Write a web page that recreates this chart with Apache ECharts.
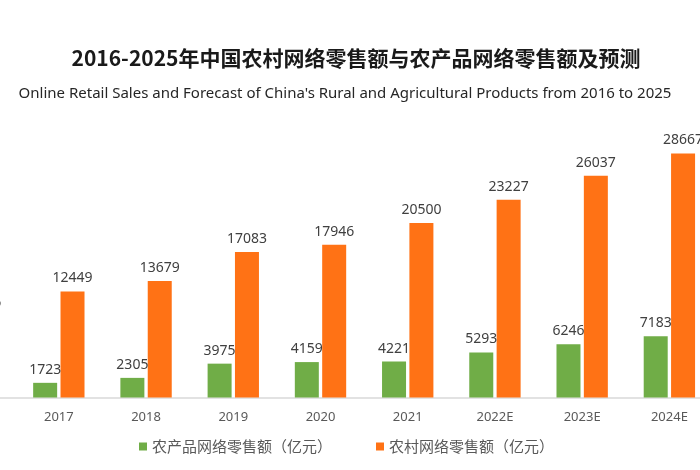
<!DOCTYPE html>
<html>
<head>
<meta charset="utf-8">
<script src="https://cdn.jsdelivr.net/npm/echarts@6/dist/echarts.min.js"></script>
<style>
    html, body { margin: 0; padding: 0; background: #ffffff; }
    #chart { width: 700px; height: 470px; }
</style>
</head>
<body>
<div id="chart"></div>
<script>
// data (2016 only partly visible, values estimated)
const years = ['2016', '2017', '2018', '2019', '2020', '2021', '2022E', '2023E', '2024E'];
const agriSales = [1589, 1723, 2305, 3975, 4159, 4221, 5293, 6246, 7183];
const ruralSales = [9556, 12449, 13679, 17083, 17946, 20500, 23227, 26037, 28667];
const seriesNames = ['农产品网络零售额（亿元）', '农村网络零售额（亿元）'];

const chart = echarts.init(document.getElementById('chart'));

const labelStyle = {
    show: true,
    position: 'top',
    distance: 6,
    color: '#404040',
    fontSize: 14,
    fontFamily: 'Noto Sans'
};

chart.setOption({
    animation: false,
    title: [
        {
            text: '2016-2025年中国农村网络零售额与农产品网络零售额及预测',
            left: 351,
            textAlign: 'center',
            top: 43,
            textStyle: {
                fontSize: 21,
                fontWeight: 'bold',
                color: '#1a1a1a',
                fontFamily: 'Noto Sans CJK SC'
            }
        },
        {
            text: "Online Retail Sales and Forecast of China's Rural and Agricultural Products from 2016 to 2025",
            left: 340,
            textAlign: 'center',
            top: 81,
            textStyle: {
                fontSize: 15,
                fontWeight: 'normal',
                color: '#262626',
                fontFamily: 'Noto Sans'
            }
        }
    ],
    legend: {
        bottom: 11,
        left: 134,
        icon: 'rect',
        itemWidth: 8,
        itemHeight: 8,
        itemGap: 44,
        textStyle: {
            fontSize: 15,
            color: '#595959',
            fontFamily: 'Noto Sans CJK SC'
        },
        data: seriesNames
    },
    // the picture is a crop: 2016 sits past the left edge
    grid: {
        outerBoundsMode: 'none',
        left: -72,
        right: -13,
        top: 125,
        bottom: 72.5
    },
    xAxis: {
        type: 'category',
        data: years,
        axisLine: { lineStyle: { color: '#d9d9d9', width: 1.5 } },
        axisTick: { show: false },
        axisLabel: {
            interval: 0,
            margin: 13,
            color: '#595959',
            fontSize: 13,
            fontFamily: 'Noto Sans'
        }
    },
    yAxis: {
        type: 'value',
        min: 0,
        max: 32000,
        show: false
    },
    series: [
        {
            name: seriesNames[0],
            type: 'bar',
            barWidth: 24,
            barGap: '14%',
            itemStyle: { color: '#70ad47' },
            label: labelStyle,
            data: agriSales
        },
        {
            name: seriesNames[1],
            type: 'bar',
            barWidth: 24,
            itemStyle: { color: '#ff7215' },
            label: labelStyle,
            data: ruralSales
        }
    ]
});
</script>
</body>
</html>
